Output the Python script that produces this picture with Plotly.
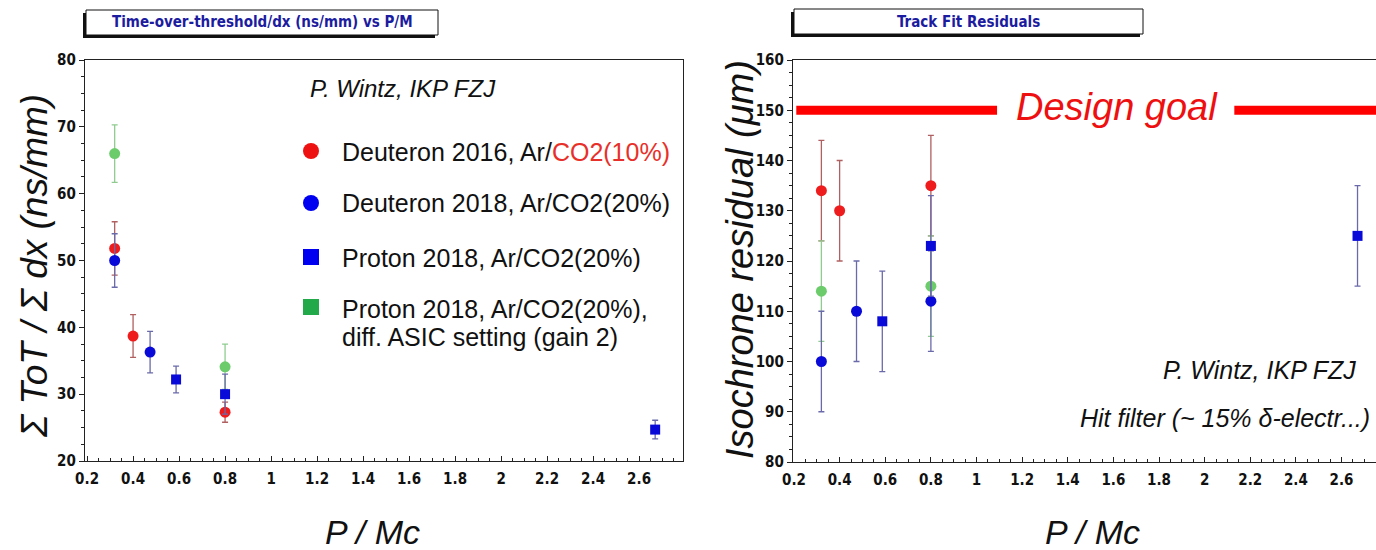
import plotly.graph_objects as go

W, H = 1376, 550

# ---------------- data ----------------
# Left panel: Sum ToT / Sum dx (ns/mm) vs P/Mc
tot_d16_x = [0.32, 0.40, 0.80]
tot_d16_y = [51.8, 38.7, 27.3]
tot_d16_e = [4.0, 3.2, 1.5]

tot_d18_x = [0.32, 0.474]
tot_d18_y = [50.0, 36.3]
tot_d18_e = [4.0, 3.1]

tot_p18_x = [0.587, 0.80, 2.67]
tot_p18_y = [32.2, 30.0, 24.7]
tot_p18_e = [2.0, 3.0, 1.4]

tot_p18g_x = [0.32, 0.80]
tot_p18g_y = [66.0, 34.1]
tot_p18g_e = [4.3, 3.4]

# Right panel: isochrone residual (um) vs P/Mc
res_d16_x = [0.32, 0.40, 0.80]
res_d16_y = [134, 130, 135]
res_d16_e = [10, 10, 10]

res_d18_x = [0.32, 0.474, 0.80]
res_d18_y = [100, 110, 112]
res_d18_e = [10, 10, 10]

res_p18_x = [0.587, 0.80, 2.67]
res_p18_y = [108, 123, 125]
res_p18_e = [10, 10, 10]

res_p18g_x = [0.32, 0.80]
res_p18g_y = [114, 115]
res_p18g_e = [10, 10]

design_goal = 150
design_goal_segments = [(0.21, 1.09), (2.13, 2.80)]

x_tickvals = [0.2, 0.4, 0.6, 0.8, 1.0, 1.2, 1.4, 1.6, 1.8, 2.0, 2.2, 2.4, 2.6]
x_ticktext = ["0.2", "0.4", "0.6", "0.8", "1", "1.2", "1.4", "1.6", "1.8", "2", "2.2", "2.4", "2.6"]
left_y_ticks = [20, 30, 40, 50, 60, 70, 80]
right_y_ticks = [80, 90, 100, 110, 120, 130, 140, 150, 160]

# ---------------- styles ----------------
RED = "#ee1c1c"
RED_ERR = "#b06060"
BLUE = "#0a0ad8"
BLUE_ERR = "#6a6aaa"
GREEN = "#6ccc6c"
GREEN_ERR = "#90cc90"
NARROW = "Liberation Sans Narrow, DejaVu Sans Condensed, Arial Narrow, sans-serif"
TICKFONT = dict(family=NARROW, size=15, color="#111111", weight="bold")
TEXTFONT = "Liberation Sans, Arial, sans-serif"


def px(x):
    return x / W


def py(y):
    return 1 - y / H


fig = go.Figure()


def add_series(xs, ys, es, color, ecolor, symbol, size, xa, ya):
    fig.add_trace(go.Scatter(
        x=xs, y=ys, mode="markers", xaxis=xa, yaxis=ya, showlegend=False,
        marker=dict(color=color, symbol=symbol, size=size, line=dict(width=0)),
        error_y=dict(type="data", array=es, visible=True, color=ecolor, thickness=1.3, width=3),
    ))


# left panel
add_series(tot_p18g_x, tot_p18g_y, tot_p18g_e, GREEN, GREEN_ERR, "circle", 11, "x", "y")
add_series(tot_d16_x, tot_d16_y, tot_d16_e, RED, RED_ERR, "circle", 11, "x", "y")
add_series(tot_d18_x, tot_d18_y, tot_d18_e, BLUE, BLUE_ERR, "circle", 11, "x", "y")
add_series(tot_p18_x, tot_p18_y, tot_p18_e, BLUE, BLUE_ERR, "square", 10, "x", "y")

# right panel
add_series(res_d16_x, res_d16_y, res_d16_e, RED, RED_ERR, "circle", 11, "x2", "y2")
add_series(res_p18g_x, res_p18g_y, res_p18g_e, GREEN, GREEN_ERR, "circle", 11, "x2", "y2")
add_series(res_d18_x, res_d18_y, res_d18_e, BLUE, BLUE_ERR, "circle", 11, "x2", "y2")
add_series(res_p18_x, res_p18_y, res_p18_e, BLUE, BLUE_ERR, "square", 10, "x2", "y2")

axis_common = dict(showgrid=False, zeroline=False, showline=True, linecolor="#222222", linewidth=1.3,
                   tickfont=TICKFONT, ticklen=5, tickwidth=1.2, tickcolor="#222222", automargin=False)

fig.update_layout(
    width=W, height=H, margin=dict(l=0, r=0, t=0, b=0, pad=0, autoexpand=False),
    paper_bgcolor="white", plot_bgcolor="white", showlegend=False,
    xaxis=dict(domain=[px(85), px(683)], range=[0.191, 2.791], anchor="y",
               tickvals=x_tickvals, ticktext=x_ticktext, ticks="inside", mirror=True,
               minor=dict(ticks="inside", dtick=0.05, ticklen=3, tickcolor="#222222"),
               ticklabelstandoff=4, **axis_common),
    yaxis=dict(domain=[py(461), py(60)], range=[20, 80], anchor="x",
               tickvals=left_y_ticks, ticks="outside", mirror=True,
               minor=dict(ticks="outside", dtick=2.5, ticklen=3, tickcolor="#222222"),
               ticklabelstandoff=0, **axis_common),
    xaxis2=dict(domain=[px(793), 1.0], range=[0.1956, 2.751], anchor="y2",
                tickvals=x_tickvals, ticktext=x_ticktext, ticks="inside", mirror=True,
                minor=dict(ticks="inside", dtick=0.05, ticklen=3, tickcolor="#222222"),
                ticklabelstandoff=4, **axis_common),
    yaxis2=dict(domain=[py(462), py(60)], range=[80, 160], anchor="x2",
                tickvals=right_y_ticks, ticks="outside", mirror=False,
                minor=dict(ticks="outside", dtick=2.5, ticklen=3, tickcolor="#222222"),
                ticklabelstandoff=0, **axis_common),
)

shapes = []
# design goal line segments
for x0, x1 in design_goal_segments:
    shapes.append(dict(type="line", xref="x2", yref="y2", x0=x0, x1=x1, y0=design_goal, y1=design_goal,
                       line=dict(color="#ff0000", width=9)))


# title boxes with shadow
def title_box(x0, y0, x1, y1):
    shapes.append(dict(type="rect", xref="paper", yref="paper",
                       x0=px(x0 - 3), x1=px(x1 - 3), y0=py(y1 + 3), y1=py(y0 + 3),
                       fillcolor="#111111", line=dict(width=0)))
    shapes.append(dict(type="rect", xref="paper", yref="paper",
                       x0=px(x0), x1=px(x1), y0=py(y1), y1=py(y0),
                       fillcolor="white", line=dict(color="#111111", width=1)))


title_box(86, 10, 438, 35)
title_box(794, 9, 1143, 34)


# legend symbols (left panel)
def circle_sym(cx, cy, r, color):
    shapes.append(dict(type="circle", xref="paper", yref="paper",
                       x0=px(cx - r), x1=px(cx + r), y0=py(cy + r), y1=py(cy - r),
                       fillcolor=color, line=dict(width=0)))


def square_sym(cx, cy, r, color):
    shapes.append(dict(type="rect", xref="paper", yref="paper",
                       x0=px(cx - r), x1=px(cx + r), y0=py(cy + r), y1=py(cy - r),
                       fillcolor=color, line=dict(width=0)))


circle_sym(311, 151, 8, "#ee1111")
circle_sym(311, 203, 8, "#0000f0")
square_sym(311, 257, 8, "#0000f0")
square_sym(311, 307, 8, "#22aa4a")

fig.update_layout(shapes=shapes)

ann = []


def text(x, y, s, size, xanchor="left", color="#111111", family=TEXTFONT, angle=0, weight="normal"):
    ann.append(dict(x=px(x), y=py(y), xref="paper", yref="paper", text=s, showarrow=False,
                    xanchor=xanchor, yanchor="middle", textangle=angle,
                    font=dict(family=family, size=size, color=color, weight=weight)))


text(262, 22, "Time-over-threshold/dx (ns/mm) vs P/M", 15, "center", "#1c1ca0", NARROW, weight="bold")
text(968, 22, "Track Fit Residuals", 15, "center", "#1c1ca0", NARROW, weight="bold")

text(308, 88, "<i>P. Wintz, IKP FZJ</i>", 24)
text(340, 152, 'Deuteron 2016, Ar/<span style="color:#e8302a">CO2(10%)</span>', 25)
text(340, 203, "Deuteron 2018, Ar/CO2(20%)", 25)
text(340, 258, "Proton 2018, Ar/CO2(20%)", 25)
text(340, 309, "Proton 2018, Ar/CO2(20%),", 25)
text(340, 337, "diff. ASIC setting (gain 2)", 25)

text(1358, 370, "<i>P. Wintz, IKP FZJ</i>", 25, "right")
text(1372, 418, "<i>Hit filter (~ 15% δ-electr...)</i>", 25, "right")

text(1117, 107, "<i>Design goal</i>", 38, "center", "#ee1010")

# axis titles
text(34, 266, "<i>Σ ToT / Σ dx (ns/mm)</i>", 37, "center", angle=-90)
text(372, 532, "<i>P / Mc</i>", 34, "center")
text(740, 259, "<i>Isochrone residual (μm)</i>", 38, "center", angle=-90)
text(1092, 532, "<i>P / Mc</i>", 34, "center")

fig.update_layout(annotations=ann)

# remove the default page margin so the figure sits at the window's top-left corner
fig.write_html("out.html", config={"displayModeBar": False},
               post_script="document.body.style.margin='0';")
